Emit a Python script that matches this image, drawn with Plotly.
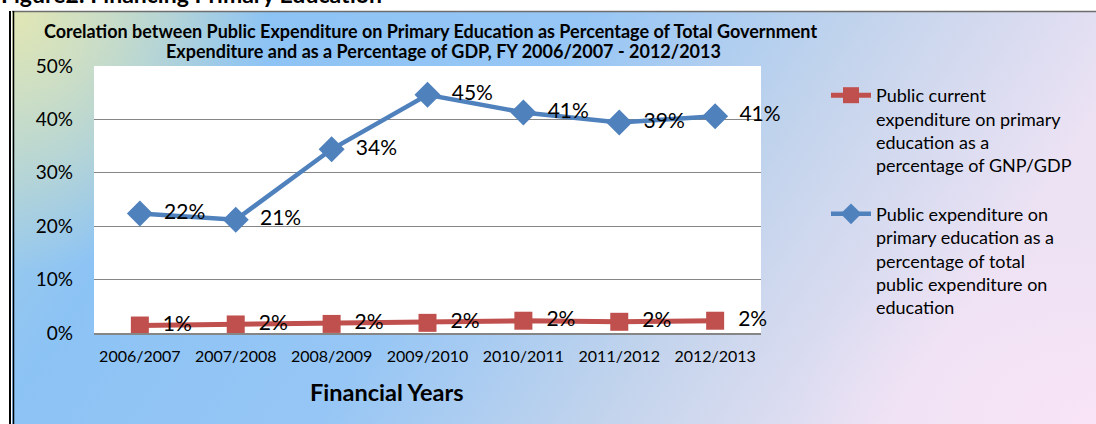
import base64
import plotly.graph_objects as go

years = ["2006/2007", "2007/2008", "2008/2009", "2009/2010", "2010/2011", "2011/2012", "2012/2013"]
gdp_share = [0.014, 0.016, 0.017, 0.019, 0.023, 0.021, 0.023]
edu_share = [0.224, 0.212, 0.344, 0.446, 0.413, 0.394, 0.406]
name_gdp = "Public current<br>expenditure on primary<br>education as a<br>percentage of GNP/GDP"
name_edu = "Public expenditure on<br>primary education as a<br>percentage of total<br>public expenditure on<br>education"
title_line1 = "Corelation between Public Expenditure on Primary Education as Percentage of Total Government"
title_line2 = "Expenditure and as a Percentage of GDP, FY 2006/2007 - 2012/2013"
fig_label = "Figure2: Financing Primary Education"
x_title = "Financial Years"
y_ticks = [0, 0.1, 0.2, 0.3, 0.4, 0.5]

W, H = 1096, 424
ML, MR, MT, MB = 94, 335, 66, 91
PW, PH = W - ML - MR, H - MT - MB
FONT = "Lato, 'Open Sans', sans-serif"


def px_x(p):
    return (p - ML) / PW


def px_y(p):
    return (MT + PH - p) / PH


svg = f'''<svg xmlns="http://www.w3.org/2000/svg" width="{W}" height="{H}" viewBox="0 0 {W} {H}" preserveAspectRatio="none">
<defs>
<linearGradient id="g" x1="0" y1="0" x2="1" y2="0.25">
<stop offset="0" stop-color="rgb(170,210,225)"/>
<stop offset="0.22" stop-color="rgb(140,195,245)"/>
<stop offset="0.5" stop-color="rgb(150,198,245)"/>
<stop offset="0.75" stop-color="rgb(195,212,236)"/>
<stop offset="1" stop-color="rgb(236,226,244)"/>
</linearGradient>
<radialGradient id="y" cx="0" cy="0" r="1" gradientUnits="userSpaceOnUse" gradientTransform="translate(12,12) scale(260,260)">
<stop offset="0" stop-color="rgb(225,230,180)" stop-opacity="1"/>
<stop offset="1" stop-color="rgb(225,230,180)" stop-opacity="0"/>
</radialGradient>
<radialGradient id="p" cx="0" cy="0" r="1" gradientUnits="userSpaceOnUse" gradientTransform="translate(1096,424) scale(300,200)">
<stop offset="0" stop-color="rgb(248,228,246)" stop-opacity="1"/>
<stop offset="1" stop-color="rgb(248,228,246)" stop-opacity="0"/>
</radialGradient>
</defs>
<rect x="0" y="0" width="{W}" height="{H}" fill="white"/>
<rect x="12" y="12" width="{W-12}" height="{H-12}" fill="url(#g)"/>
<rect x="12" y="12" width="{W-12}" height="{H-12}" fill="url(#y)"/>
<rect x="12" y="12" width="{W-12}" height="{H-12}" fill="url(#p)"/>
<rect x="{ML}" y="{MT}" width="{PW}" height="{PH}" fill="white"/>
<line x1="12" y1="11.5" x2="{W}" y2="11.5" stroke="rgb(110,110,110)" stroke-width="1.5"/>
<line x1="10" y1="11" x2="10" y2="{H}" stroke="black" stroke-width="2"/>
<line x1="13.5" y1="11" x2="13.5" y2="{H}" stroke="black" stroke-width="1.5"/>
</svg>'''
src = "data:image/svg+xml;base64," + base64.b64encode(svg.encode()).decode()

fig = go.Figure()
fig.add_trace(go.Scatter(
    x=years, y=gdp_share, name=name_gdp, legendgroup="a",
    mode="lines+markers+text", cliponaxis=False,
    line=dict(color="#C0504D", width=5),
    marker=dict(symbol="square", size=18, color="#C0504D"),
    texttemplate="\u00a0\u00a0%{y:.0%}", textposition="middle right",
    textfont=dict(size=21, color="black", family=FONT),
))
fig.add_trace(go.Scatter(
    x=years, y=edu_share, name=name_edu, legendgroup="b",
    mode="lines+markers+text", cliponaxis=False,
    line=dict(color="#4F81BD", width=4.5),
    marker=dict(symbol="diamond", size=20, color="#4F81BD"),
    texttemplate="\u00a0\u00a0%{y:.0%}", textposition="middle right",
    textfont=dict(size=21, color="black", family=FONT),
))

fig.update_layout(
    width=W, height=H,
    margin=dict(l=ML, r=MR, t=MT, b=MB),
    paper_bgcolor="white", plot_bgcolor="white",
    font=dict(family=FONT, color="black"),
    images=[dict(source=src, xref="paper", yref="paper",
                 x=-ML / PW, y=1 + MT / PH, sizex=W / PW, sizey=H / PH,
                 xanchor="left", yanchor="top", sizing="stretch", layer="below")],
    showlegend=True,
    legend=dict(x=px_x(826), y=px_y(77), xanchor="left", yanchor="top", valign="top",
                bgcolor="rgba(0,0,0,0)", font=dict(size=18, family=FONT),
                traceorder="grouped", tracegroupgap=22, itemwidth=40),
    annotations=[
        dict(text="<b>" + title_line1 + "</b>", xref="paper", yref="paper",
             x=px_x(430), y=px_y(31), xanchor="center", yanchor="middle",
             showarrow=False, font=dict(size=18, family=FONT)),
        dict(text="<b>" + title_line2 + "</b>", xref="paper", yref="paper",
             x=px_x(444), y=px_y(51), xanchor="center", yanchor="middle",
             showarrow=False, font=dict(size=18, family=FONT)),
        dict(text="<b>" + fig_label + "</b>", xref="paper", yref="paper",
             x=px_x(-1), y=px_y(10), xanchor="left", yanchor="bottom",
             showarrow=False, font=dict(size=23, family=FONT)),
        dict(text="<b>" + x_title + "</b>", xref="paper", yref="paper",
             x=px_x(387), y=px_y(392), xanchor="center", yanchor="middle",
             showarrow=False, font=dict(size=23.5, family=FONT)),
    ],
)
fig.update_xaxes(type="category", showgrid=False, showline=True, linecolor="rgb(134,134,134)",
                 linewidth=2, ticks="", tickfont=dict(size=16), ticklabelstandoff=8)
fig.update_yaxes(range=[0, 0.5], tickvals=y_ticks, tickformat=".0%", showgrid=True,
                 gridcolor="rgb(134,134,134)", gridwidth=1, zeroline=False, showline=False,
                 ticks="", tickfont=dict(size=19), ticklabelstandoff=20)

fig.write_html("out.html", config={"displayModeBar": False},
               post_script="document.body.style.margin='0px';")
